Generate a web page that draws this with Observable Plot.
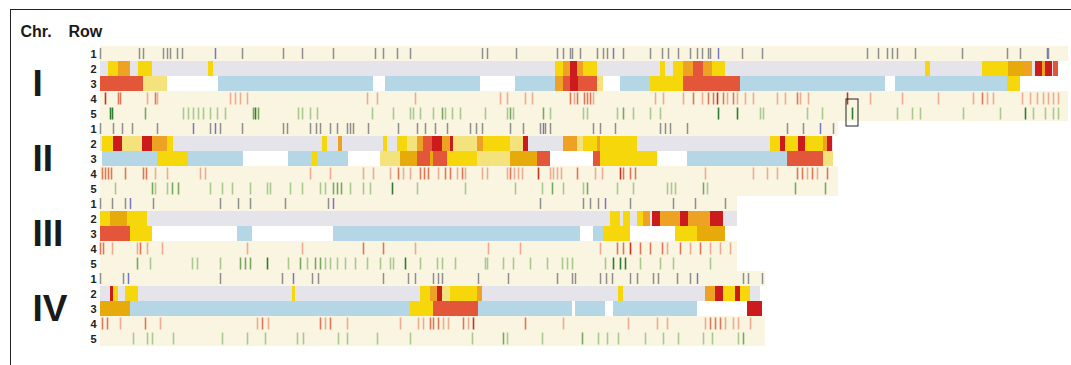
<!DOCTYPE html>
<html>
<head>
<meta charset="utf-8">
<script src="https://cdn.jsdelivr.net/npm/d3@7"></script>
<script src="https://cdn.jsdelivr.net/npm/@observablehq/plot@0.6"></script>
<style>
  html, body { margin: 0; padding: 0; background: #fff; }
  #wrap { position: relative; width: 1071px; height: 365px; overflow: hidden; }
  #frame { position: absolute; left: 10px; top: 9px; width: 1200px; height: 500px;
           border-left: 1.5px solid #222; border-top: 1.5px solid #222; pointer-events: none; }
</style>
</head>
<body>
<div id="wrap"><div id="chart"></div><div id="frame"></div></div>
<script>
// ---------- DATA ----------
const chromosomes = ["I", "II", "III", "IV"];
const rowNumbers = [1, 2, 3, 4, 5];
const chrEnd = [1068, 838, 737, 765];      // extent of rows 1, 4, 5
const row2End = [1058, 833, 737, 760];     // extent of the grey row-2 band

// Row 1: marker ticks (grey and blue)
const r1Grey = [
  [100,139,143,163,167,170,177,182,242,283,302,333,375,383,397,410,482,487,516,557,563,570,572,580,597,603,607,623,650,662,668,678,690,697,708,702,710,742,762,867,878,887,892,897,915,962,1007,1020,1048],
  [100,113,122,132,157,210,220,242,283,287,310,316,320,330,337,347,350,353,368,398,417,425,435,447,470,476,482,510,523,540,545,550,593,600,615,660,665,670,687,787,803,833],
  [100,112,125,153,220,238,250,285,328,540,583,590,598,630,673,695,725],
  [100,123,220,282,312,318,383,408,415,433,438,442,478,508,557,572,575,600,606,612,630,637,653,658,677,690,743,748,762]
];
const r1Blue = [
  [215,613,718,1047],
  [193,215,543,820],
  [130,333,605],
  [128,293,697]
];

// Row 2: coloured blocks [start, end, class]
const r2Blocks = [
  [[108,118,"Y"],[118,130,"O"],[138,152,"Y"],[208,213,"Y"],[555,563,"Y"],[563,570,"O"],[570,577,"D"],[577,583,"O"],[583,597,"Y"],[660,665,"Y"],[673,683,"Y"],[683,693,"O"],[693,703,"R"],[703,712,"O"],[712,725,"Y"],[925,930,"Y"],[982,1008,"Y"],[1008,1023,"G"],[1023,1032,"O"],[1035,1042,"D"],[1042,1045,"O"],[1045,1052,"D"],[1053,1058,"R"]],
  [[102,113,"Y"],[113,122,"D"],[122,142,"L"],[142,152,"D"],[152,167,"O"],[167,173,"Y"],[322,327,"Y"],[338,342,"O"],[383,387,"Y"],[397,407,"Y"],[407,417,"L"],[417,423,"O"],[423,432,"R"],[432,442,"D"],[442,450,"O"],[450,453,"D"],[453,477,"L"],[477,483,"O"],[483,510,"Y"],[510,523,"L"],[523,528,"D"],[563,577,"O"],[577,583,"L"],[583,597,"Y"],[597,600,"O"],[600,637,"Y"],[770,780,"Y"],[780,785,"D"],[785,798,"Y"],[798,805,"D"],[805,823,"Y"],[823,827,"O"],[827,832,"D"]],
  [[100,110,"Y"],[110,127,"G"],[127,147,"Y"],[610,620,"Y"],[623,630,"Y"],[637,643,"Y"],[643,650,"O"],[652,660,"D"],[660,680,"O"],[680,688,"D"],[688,710,"O"],[710,723,"D"]],
  [[110,113,"D"],[113,118,"Y"],[125,138,"Y"],[292,295,"Y"],[420,430,"Y"],[430,437,"O"],[437,442,"D"],[442,450,"L"],[450,477,"Y"],[477,482,"O"],[618,623,"Y"],[705,715,"O"],[715,723,"D"],[723,735,"Y"],[735,740,"D"],[740,750,"Y"]]
];

// Row 3: blue background segments [start, end]
const r3Blue = [
  [[218,373],[385,480],[515,555],[620,650],[740,885],[895,1007]],
  [[102,157],[188,243],[288,312],[317,348],[687,787]],
  [[237,252],[333,580],[593,603]],
  [[130,410],[478,572],[575,605],[613,697]]
];
// Row 3: coloured blocks
const r3Blocks = [
  [[100,143,"R"],[143,167,"L"],[555,563,"O"],[563,570,"R"],[570,578,"D"],[578,597,"R"],[597,603,"L"],[650,683,"Y"],[683,740,"R"],[1007,1020,"Y"]],
  [[157,188,"Y"],[312,317,"Y"],[380,400,"L"],[400,417,"G"],[417,430,"R"],[430,433,"G"],[433,447,"R"],[447,477,"Y"],[477,510,"L"],[510,537,"G"],[537,550,"R"],[593,600,"R"],[600,657,"Y"],[787,823,"R"],[823,833,"L"]],
  [[100,130,"R"],[130,152,"Y"],[603,630,"Y"],[675,697,"Y"],[697,725,"G"]],
  [[100,130,"G"],[410,433,"Y"],[433,478,"R"],[747,762,"D"]]
];

// Row 4: red ticks [position, shade 1..3]
const r4Ticks = [
  [[105,3],[118,2],[120,2],[147,1],[155,2],[157,1],[230,1],[235,1],[240,1],[247,1],[367,1],[377,1],[415,1],[500,1],[507,1],[525,1],[532,1],[570,2],[574,1],[577,2],[584,2],[587,2],[590,2],[593,1],[655,1],[663,1],[683,1],[693,2],[702,1],[708,2],[713,2],[717,3],[723,2],[727,1],[733,2],[737,1],[745,1],[753,1],[777,1],[785,1],[797,2],[800,1],[808,1],[847,3],[870,1],[902,1],[938,1],[973,1],[982,2],[987,1],[993,1],[1022,1],[1030,1],[1037,1],[1043,1],[1048,1],[1053,1],[1058,1]],
  [[102,2],[105,2],[108,2],[111,2],[125,2],[143,2],[146,2],[155,1],[167,1],[200,1],[205,1],[310,1],[330,1],[363,1],[373,1],[390,1],[398,2],[403,1],[410,1],[420,2],[424,2],[428,2],[438,1],[445,2],[450,2],[457,1],[462,2],[465,1],[482,1],[487,1],[507,1],[510,2],[514,1],[518,1],[522,1],[538,3],[550,1],[553,1],[557,1],[561,1],[577,2],[595,1],[602,1],[620,3],[623,2],[630,2],[635,2],[705,1],[753,1],[767,1],[777,1],[797,2],[802,2],[807,1],[812,2],[817,1],[827,2]],
  [[100,2],[103,2],[112,1],[137,1],[140,2],[147,1],[162,1],[247,1],[302,1],[363,2],[383,2],[415,1],[488,1],[520,1],[600,1],[617,2],[623,2],[630,3],[640,2],[650,2],[662,2],[667,1],[680,2],[690,1],[700,2],[710,1],[720,1],[730,1]],
  [[102,2],[107,2],[120,1],[145,2],[160,1],[257,1],[262,2],[268,1],[320,2],[325,1],[330,2],[347,1],[400,1],[418,1],[423,1],[430,2],[433,2],[438,2],[443,1],[448,1],[463,2],[468,1],[473,3],[525,2],[563,1],[628,1],[657,1],[667,1],[705,1],[710,2],[715,2],[720,2],[725,1],[733,1],[738,1],[750,1]]
];

// Row 5: green ticks [position, shade 1..3]
const r5Ticks = [
  [[110,3],[112,3],[145,2],[183,1],[188,1],[193,1],[198,1],[203,1],[210,1],[217,1],[225,1],[253,2],[255,3],[258,2],[298,1],[302,1],[310,1],[317,1],[372,1],[393,1],[410,1],[413,1],[420,1],[433,1],[442,2],[445,1],[452,1],[460,1],[485,1],[507,1],[510,2],[513,1],[543,2],[550,1],[583,1],[587,1],[617,1],[623,2],[633,1],[650,1],[660,1],[718,3],[737,3],[760,1],[763,1],[807,1],[822,1],[852,3],[897,1],[912,1],[920,1],[963,1],[1000,1],[1025,3],[1033,1],[1045,1],[1053,1],[1058,1]],
  [[115,1],[152,2],[155,1],[167,1],[172,2],[178,2],[210,1],[222,1],[232,1],[250,1],[267,1],[270,1],[290,1],[302,1],[320,1],[325,1],[333,2],[337,2],[341,2],[350,1],[363,1],[370,1],[392,3],[417,1],[465,1],[515,1],[542,1],[552,2],[563,1],[583,1],[587,2],[617,1],[633,1],[667,1],[671,1],[675,1],[703,2],[707,1],[795,2],[825,2]],
  [[137,2],[150,1],[192,1],[197,1],[220,1],[240,2],[245,2],[250,2],[267,3],[288,1],[300,2],[307,1],[315,2],[320,2],[325,1],[330,1],[337,1],[345,1],[355,1],[367,1],[380,1],[390,1],[393,1],[405,3],[420,1],[437,1],[442,1],[455,1],[485,1],[487,1],[503,1],[513,1],[530,1],[547,1],[562,1],[567,1],[572,1],[605,1],[613,3],[620,3],[625,3],[640,1],[660,1],[673,1],[710,1]],
  [[133,1],[147,1],[152,1],[173,1],[222,1],[247,1],[265,1],[297,1],[303,1],[338,1],[347,1],[377,1],[410,1],[472,1],[503,2],[507,1],[542,1],[582,2],[598,1],[607,1],[618,1],[645,1],[663,1],[678,1],[703,1],[712,1],[738,1],[743,2]]
];

// Highlighted marker
const highlight = [{chr: "I", row: 5, pos: 852}];

// ---------- STYLES ----------
const blockColor = {Y: "#f6d70c", L: "#f4e27c", O: "#eea224", G: "#e6ab0a", R: "#e3563a", D: "#cc1b1d"};
const redShade = {1: "#efaa92", 2: "#e27556", 3: "#c93322"};
const greenShade = {1: "#a9c98f", 2: "#78a85e", 3: "#2f7d33"};
const cream = "#faf5e1", greyBand = "#e5e4eb", blueBand = "#b5d6e4";

// ---------- TABLES ----------
const key = (c, r) => `${c}-${r}`;
const rowKeys = chromosomes.flatMap(c => rowNumbers.map(r => key(c, r)));

const creamBg = chromosomes.flatMap((c, i) => [1, 4, 5].map(r => ({y: key(c, r), x1: 100, x2: chrEnd[i]})));
const greyBg = chromosomes.map((c, i) => ({y: key(c, 2), x1: 100, x2: row2End[i]}));
const blueBg = chromosomes.flatMap((c, i) => r3Blue[i].map(([a, b]) => ({y: key(c, 3), x1: a, x2: b})));
const blocks = chromosomes.flatMap((c, i) => [
  ...r2Blocks[i].map(([a, b, k]) => ({y: key(c, 2), x1: a, x2: b, k})),
  ...r3Blocks[i].map(([a, b, k]) => ({y: key(c, 3), x1: a, x2: b, k}))
]);
const ticks1 = chromosomes.flatMap((c, i) => [
  ...r1Grey[i].map(x => ({y: key(c, 1), x, col: "#8f8f8f"})),
  ...r1Blue[i].map(x => ({y: key(c, 1), x, col: "#7676c4"}))
]);
const ticks45 = chromosomes.flatMap((c, i) => [
  ...r4Ticks[i].map(([x, s]) => ({y: key(c, 4), x, col: redShade[s]})),
  ...r5Ticks[i].map(([x, s]) => ({y: key(c, 5), x, col: greenShade[s]}))
]);

const chart = Plot.plot({
  width: 1071,
  height: 365,
  marginLeft: 100,
  marginRight: 3,
  marginTop: 44,
  marginBottom: 17,
  style: {background: "transparent", fontFamily: "Liberation Sans, Arial, sans-serif"},
  x: {domain: [100, 1068], axis: null},
  y: {domain: rowKeys, padding: 0, axis: null},
  marks: [
    Plot.barX(creamBg, {x1: "x1", x2: "x2", y: "y", fill: cream}),
    Plot.barX(greyBg, {x1: "x1", x2: "x2", y: "y", fill: greyBand}),
    Plot.barX(blueBg, {x1: "x1", x2: "x2", y: "y", fill: blueBand}),
    Plot.barX(blocks, {x1: "x1", x2: "x2", y: "y", fill: d => blockColor[d.k]}),
    Plot.tickX(ticks1, {x: "x", y: "y", stroke: "col", strokeWidth: 1.5, insetTop: 2, insetBottom: 2}),
    Plot.tickX(ticks45, {x: "x", y: "y", stroke: "col", strokeWidth: 1.6, insetTop: 1.5, insetBottom: 1.5}),
    Plot.barX(highlight, {x1: d => d.pos - 6, x2: d => d.pos + 6, y: d => key(d.chr, d.row),
      fill: "none", stroke: "#222", strokeWidth: 1, insetTop: -7, insetBottom: -5}),
    Plot.axisY({label: null, tickSize: 0, tickPadding: 4, tickFormat: d => d.split("-")[1],
      fontSize: 11, fontWeight: "bold", fill: "#222"}),
    Plot.text(chromosomes, {y: c => key(c, 3), frameAnchor: "left", dx: -68, textAnchor: "start",
      text: d => d, fontSize: 37, fontWeight: "bold", fill: "#1a1a1a"}),
    Plot.text(["Chr."], {frameAnchor: "top-left", dx: -80, dy: -8, lineAnchor: "bottom",
      textAnchor: "start", text: d => d, fontSize: 16, fontWeight: "bold", fill: "#1a1a1a"}),
    Plot.text(["Row"], {frameAnchor: "top-left", dx: -32, dy: -8, lineAnchor: "bottom",
      textAnchor: "start", text: d => d, fontSize: 16, fontWeight: "bold", fill: "#1a1a1a"})
  ]
});
document.getElementById("chart").appendChild(chart);
</script>
</body>
</html>
